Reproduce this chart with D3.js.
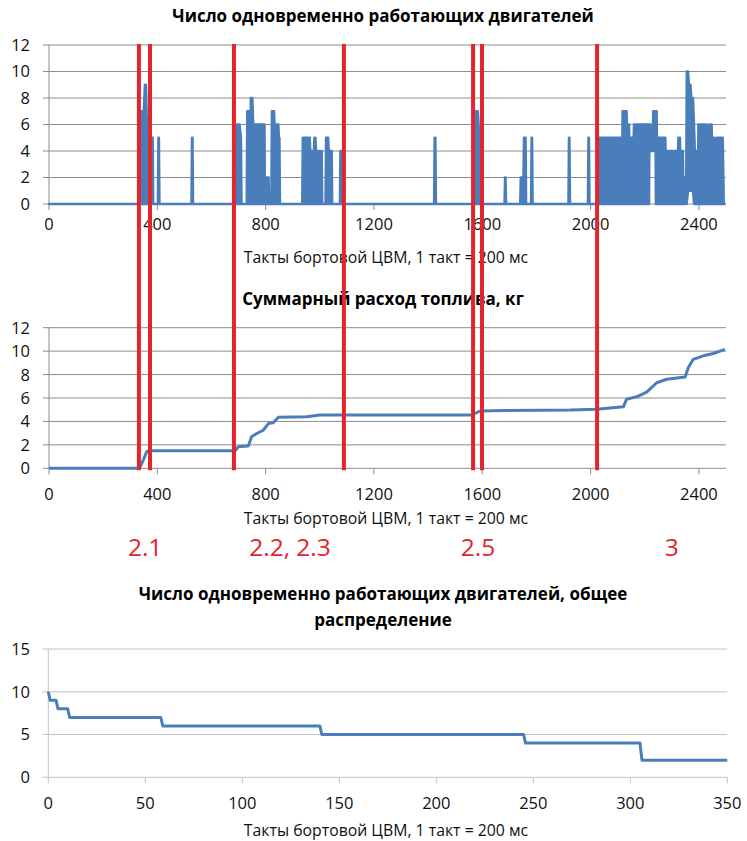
<!DOCTYPE html>
<html>
<head>
<meta charset="utf-8">
<script src="https://cdn.jsdelivr.net/npm/d3@7"></script>
<style>
  body { margin: 0; background: #fff; }
  svg { display: block; }
  text { font-family: "Open Sans", sans-serif; }
</style>
</head>
<body>
<svg id="chart" width="747" height="841"></svg>
<script>
// ---- Engine count per tick: [tick, upper value, lower value] ----
// Where the engine count flickers quickly the trace fills a band between lower and upper.
const engineProfile = [
  [0,0,0],[338,0,0],[340,7,0],[350,7,0],[354,9,0],[358,9,0],[363,5,0],[383,5,0],[385,0,0],
  [402,0,0],[404,5,0],[406,5,0],[408,0,0],
  [526,0,0],[528,5,0],[530,5,0],[532,0,0],
  [690,0,0],[692,6,0],[704,6,0],[709,5,0],[711,0,0],
  [730,0,0],[732,7,0],[739,7,0],[741,2,0],[744,2,0],[745,8,0],[751,8,0],[754,6,0],[796,6,0],[797,2,0],[811,2,0],[813,0,0],
  [821,0,0],[823,7,0],[831,7,0],[833,6,0],[847,6,0],[849,5,0],[851,5,0],[853,0,0],
  [935,0,0],[937,5,0],[963,5,0],[965,4,0],[978,4,0],[980,5,0],[984,5,0],[986,4,0],[991,4,0],[993,0,0],
  [997,0,0],[998,4,0],[1007,4,0],[1009,0,0],
  [1021,0,0],[1023,5,0],[1031,5,0],[1033,4,0],[1044,4,0],[1046,0,0],
  [1074,0,0],[1076,4,0],[1080,4,0],[1082,0,0],
  [1422,0,0],[1424,5,0],[1427,5,0],[1429,0,0],
  [1574,0,0],[1577,7,0],[1584,7,0],[1589,5,0],[1590,0,0],
  [1682,0,0],[1684,2,0],[1686,2,0],[1688,0,0],
  [1740,0,0],[1742,2,0],[1752,2,0],[1754,5,0],[1760,5,0],[1762,0,0],
  [1780,0,0],[1782,5,0],[1784,5,0],[1786,0,0],
  [1918,0,0],[1920,5,0],[1922,5,0],[1924,0,0],
  [1990,0,0],[1992,5,0],[1994,5,0],[1996,0,0],
  [2026,0,0],[2028,5,0],[2117,5,0],[2118,7,0],[2133,7,0],[2134,6,0],[2142,6,0],[2143,5,0],[2159,5,0],
  [2160,6,0],[2216,6,0],[2217,6,4],[2222,6,4],[2223,5,4],[2230,5,4],[2231,7,4],[2240,7,4],[2241,7,0],
  [2244,7,0],[2245,5,0],[2276,5,0],[2277,4,0],[2323,4,0],[2324,5,0],[2330,5,0],[2331,4,0],[2341,4,0],
  [2342,2,0],[2353,2,0],[2355,10,0],[2360,10,1],[2363,9,1],[2369,9,1],[2372,8,1],[2378,8,1],[2382,6,0],
  [2385,4,0],[2397,4,0],[2398,6,0],[2416,6,0],[2417,5,0],[2421,5,0],[2422,6,0],[2429,6,0],[2430,5,0],
  [2437,5,0],[2438,6,0],[2447,6,0],[2448,5,0],[2458,5,0],[2459,2,0],[2466,2,0],[2467,5,0],[2488,5,0],
  [2492,0,0],[2495,0,0]
];

// ---- Cumulative fuel consumption, kg ----
const fuelTicks  = [0, 334, 348, 361, 370, 687, 699, 736, 748, 767, 791, 810, 828, 847, 951, 1001,
                    1561, 1592, 1684, 1924, 2022, 2072, 2121, 2133, 2170, 2207, 2244, 2281, 2349,
                    2361, 2379, 2416, 2453, 2478, 2496];
const fuelValues = [0, 0, 0.7, 1.42, 1.5, 1.5, 1.84, 1.9, 2.7, 2.97, 3.25, 3.82, 3.88, 4.35, 4.4, 4.55,
                    4.55, 4.89, 4.94, 4.98, 5.05, 5.15, 5.25, 5.9, 6.1, 6.5, 7.3, 7.6, 7.8,
                    8.6, 9.3, 9.6, 9.8, 10.0, 10.15];

// ---- Engine count, sorted distribution ----
const distTicks  = [0, 1, 4, 5, 10, 11, 58, 59, 140, 141, 245, 246, 305, 306, 350];
const distValues = [10, 9, 9, 8, 8, 7, 7, 6, 6, 5, 5, 4, 4, 2, 2];

// ---- Axis ticks ----
const timeTicks   = [0, 400, 800, 1200, 1600, 2000, 2400];
const countTicks  = [0, 2, 4, 6, 8, 10, 12];
const fuelTicksY  = [0, 2, 4, 6, 8, 10, 12];
const distXTicks  = [0, 50, 100, 150, 200, 250, 300, 350];
const distYTicks  = [0, 5, 10, 15];

// ---- Flight phase boundaries (ticks) and phase labels ----
const phaseBounds = [332, 373, 683, 1089, 1566, 1599, 2024];
const phaseNames  = ["2.1", "2.2, 2.3", "2.5", "3"];
const phaseAt     = [355, 890, 1584, 2300];

const titles = {
  top: "Число одновременно работающих двигателей",
  mid: "Суммарный расход топлива, кг",
  bot1: "Число одновременно работающих двигателей, общее",
  bot2: "распределение",
  axis: "Такты бортовой ЦВМ, 1 такт = 200 мс"
};

const BLUE = "#4a7ebb", RED = "#e2252d";
const TICK_FONT = 16.5, AXIS_FONT = 15.8, TITLE_FONT = 17, PHASE_FONT = 24.5;
const svg = d3.select("#chart");

const xTime = d3.scaleLinear().domain([0, 2500]).range([49, 726]);
const yTop  = d3.scaleLinear().domain([0, 12]).range([204, 45]);
const yMid  = d3.scaleLinear().domain([0, 12]).range([468.3, 327.7]);
const xDist = d3.scaleLinear().domain([0, 350]).range([48.3, 727.3]);
const yDist = d3.scaleLinear().domain([0, 15]).range([777.3, 649]);

function frame(x, y, xt, yt, opt) {
  const g = svg.append("g");
  const [x0, x1] = x.range();
  g.selectAll("line.grid").data(yt).join("line")
    .attr("x1", x0).attr("x2", x1)
    .attr("y1", d => y(d)).attr("y2", d => y(d))
    .attr("stroke", opt.grid).attr("stroke-width", 1);
  // y axis line and outward ticks
  g.append("line").attr("x1", x0).attr("x2", x0)
    .attr("y1", y(y.domain()[0])).attr("y2", y(y.domain()[1]))
    .attr("stroke", opt.grid);
  g.selectAll("line.yt").data(yt).join("line")
    .attr("x1", x0 - 6).attr("x2", x0)
    .attr("y1", d => y(d)).attr("y2", d => y(d))
    .attr("stroke", opt.grid);
  g.selectAll("text.yl").data(yt).join("text")
    .attr("x", 30).attr("y", d => y(d))
    .attr("dy", "0.36em").attr("text-anchor", "end")
    .attr("font-size", TICK_FONT).attr("fill", "#111")
    .text(d => d);
  // x ticks and labels
  const base = y(0);
  g.selectAll("line.xt").data(xt).join("line")
    .attr("x1", d => x(d)).attr("x2", d => x(d))
    .attr("y1", base).attr("y2", base + 6)
    .attr("stroke", opt.grid);
  g.selectAll("text.xl").data(xt).join("text")
    .attr("x", d => x(d)).attr("y", base + opt.labelOff)
    .attr("dy", "0.36em").attr("text-anchor", "middle")
    .attr("font-size", TICK_FONT).attr("fill", "#111")
    .text(d => d);
  g.append("text").attr("x", 386).attr("y", opt.axisY)
    .attr("dy", "0.36em").attr("text-anchor", "middle")
    .attr("font-size", AXIS_FONT).attr("fill", "#111")
    .text(titles.axis);
  return g;
}

function title(text, cy) {
  svg.append("text").attr("x", 383).attr("y", cy)
    .attr("dy", "0.36em").attr("text-anchor", "middle")
    .attr("font-size", TITLE_FONT).attr("font-weight", "bold").attr("fill", "#000")
    .text(text);
}

// ---- Panel 1: engine count over time ----
title(titles.top, 16);
const g1 = frame(xTime, yTop, timeTicks, countTicks, { grid: "#8c8c8c", labelOff: 20, axisY: 257 });
g1.append("path").datum(engineProfile)
  .attr("d", d3.area().x(d => xTime(d[0])).y0(d => yTop(d[2])).y1(d => yTop(d[1])))
  .attr("fill", BLUE).attr("stroke", BLUE).attr("stroke-width", 2.4)
  .attr("stroke-linejoin", "round");

// ---- Panel 2: cumulative fuel ----
title(titles.mid, 299);
const g2 = frame(xTime, yMid, timeTicks, fuelTicksY, { grid: "#8c8c8c", labelOff: 26, axisY: 518 });
g2.append("path").datum(fuelTicks.map((t, i) => [t, fuelValues[i]]))
  .attr("d", d3.line().x(d => xTime(d[0])).y(d => yMid(d[1])))
  .attr("fill", "none").attr("stroke", BLUE).attr("stroke-width", 3)
  .attr("stroke-linejoin", "round");

// ---- Phase boundaries spanning both upper panels ----
svg.append("g").selectAll("line").data(phaseBounds).join("line")
  .attr("x1", d => xTime(d)).attr("x2", d => xTime(d))
  .attr("y1", yTop(12) - 1).attr("y2", yMid(0) + 2)
  .attr("stroke", RED).attr("stroke-width", 4);

svg.append("g").selectAll("text").data(phaseNames).join("text")
  .attr("x", (d, i) => xTime(phaseAt[i])).attr("y", 547)
  .attr("dy", "0.36em").attr("text-anchor", "middle")
  .attr("font-size", PHASE_FONT).attr("fill", RED)
  .text(d => d);

// ---- Panel 3: sorted distribution ----
title(titles.bot1, 594);
title(titles.bot2, 620);
const g3 = frame(xDist, yDist, distXTicks, distYTicks, { grid: "#c4c4c4", labelOff: 26, axisY: 830 });
g3.append("path").datum(distTicks.map((t, i) => [t, distValues[i]]))
  .attr("d", d3.line().x(d => xDist(d[0])).y(d => yDist(d[1])))
  .attr("fill", "none").attr("stroke", BLUE).attr("stroke-width", 3)
  .attr("stroke-linejoin", "round");
</script>
</body>
</html>
